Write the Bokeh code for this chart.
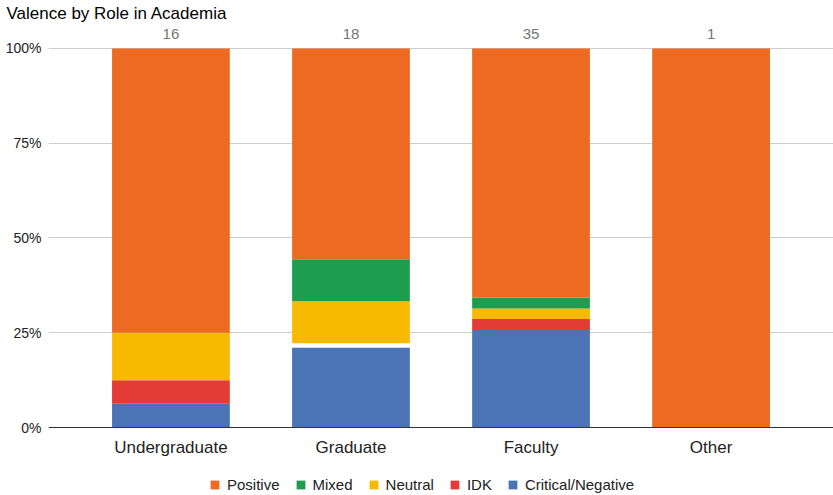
from bokeh.plotting import figure
from bokeh.models import (ColumnDataSource, FactorRange, Range1d, Legend,
                          LegendItem, FixedTicker, Span)
from bokeh.embed import file_html
from bokeh.resources import INLINE
from bokeh.core.properties import value

# Share of responses (percent) per role, stacked bottom to top
roles = ["Undergraduate", "Graduate", "Faculty", "Other"]
totals = [16, 18, 35, 1]
critical = [6.25, 21.1, 25.7, 0.0]
blank = [0.0, 1.1, 0.0, 0.0]
idk = [6.25, 0.0, 2.9, 0.0]
neutral = [12.5, 11.1, 2.8, 0.0]
mixed = [0.0, 11.1, 2.9, 0.0]
positive = [75.0, 55.6, 65.7, 100.0]

tick_values = [0, 25, 50, 75, 100]
tick_labels = ["0%", "25%", "50%", "75%", "100%"]

series = ["critical", "blank", "idk", "neutral", "mixed", "positive"]
colors = ["#4a74b6", "#ffffff", "#e33b36", "#f8ba00", "#1e9d4f", "#ec6a21"]
legend_order = [("Positive", "positive"), ("Mixed", "mixed"),
                ("Neutral", "neutral"), ("IDK", "idk"),
                ("Critical/Negative", "critical")]

src = ColumnDataSource(dict(role=roles, critical=critical, blank=blank, idk=idk,
                            neutral=neutral, mixed=mixed, positive=positive,
                            top=[100] * len(roles), base=[0] * len(roles),
                            total=[str(t) for t in totals]))

FONT = "Liberation Sans"

# The frame reaches down to the page bottom so that the category names and
# the legend row sit inside it, below the zero line.
p = figure(frame_width=785, frame_height=471,
           x_range=FactorRange(*roles, range_padding=0.09),
           y_range=Range1d(-17.94, 106.33),
           x_axis_location=None,
           output_backend="svg", toolbar_location=None,
           min_border_left=48, min_border_right=0, min_border_top=0,
           min_border_bottom=0)

p.title.text = "Valence by Role in Academia"
p.title.text_font = FONT
p.title.text_font_size = "17px"
p.title.text_font_style = "normal"
p.title.text_color = "#000000"
p.title.offset = -42
p.title.standoff = 3

renderers = p.vbar_stack(series, x="role", width=0.654, color=colors,
                         line_color=None, source=src)
by_name = dict(zip(series, renderers))

# respondent count above each bar
p.text(x="role", y="top", text="total", source=src, y_offset=-9,
       text_align="center", text_baseline="bottom",
       text_font=value(FONT), text_font_size="15px", text_color="#757575")

# category names under the zero line
p.text(x="role", y="base", text="role", source=src, y_offset=10,
       text_align="center", text_baseline="top",
       text_font=value(FONT), text_font_size="17px", text_color="#222222")

p.add_layout(Span(location=0, dimension="width", line_color="#333333",
                  line_width=1))

p.outline_line_color = None
p.xgrid.grid_line_color = None
p.ygrid.grid_line_color = "#cccccc"
p.ygrid.ticker = FixedTicker(ticks=tick_values)

p.yaxis.ticker = FixedTicker(ticks=tick_values)
p.yaxis.major_label_overrides = {v: l for v, l in zip(tick_values, tick_labels)}
p.yaxis.axis_line_color = None
p.yaxis.major_tick_line_color = None
p.yaxis.minor_tick_line_color = None
p.yaxis.major_tick_out = 0
p.yaxis.major_tick_in = 0
p.yaxis.minor_tick_out = 0
p.yaxis.major_label_standoff = 7
p.yaxis.major_label_text_font = FONT
p.yaxis.major_label_text_font_size = "14px"
p.yaxis.major_label_text_color = "#222222"

items = [LegendItem(label=lbl, renderers=[by_name[key]]) for lbl, key in legend_order]
legend = Legend(items=items, orientation="horizontal", location=(161, 2),
                label_text_font=FONT, label_text_font_size="15px",
                label_text_color="#222222", glyph_width=11, glyph_height=11,
                label_height=17, label_standoff=7, spacing=15,
                padding=0, margin=0,
                border_line_color=None, background_fill_alpha=0)
p.add_layout(legend, "center")

open("out.html", "w").write(file_html(p, INLINE))
